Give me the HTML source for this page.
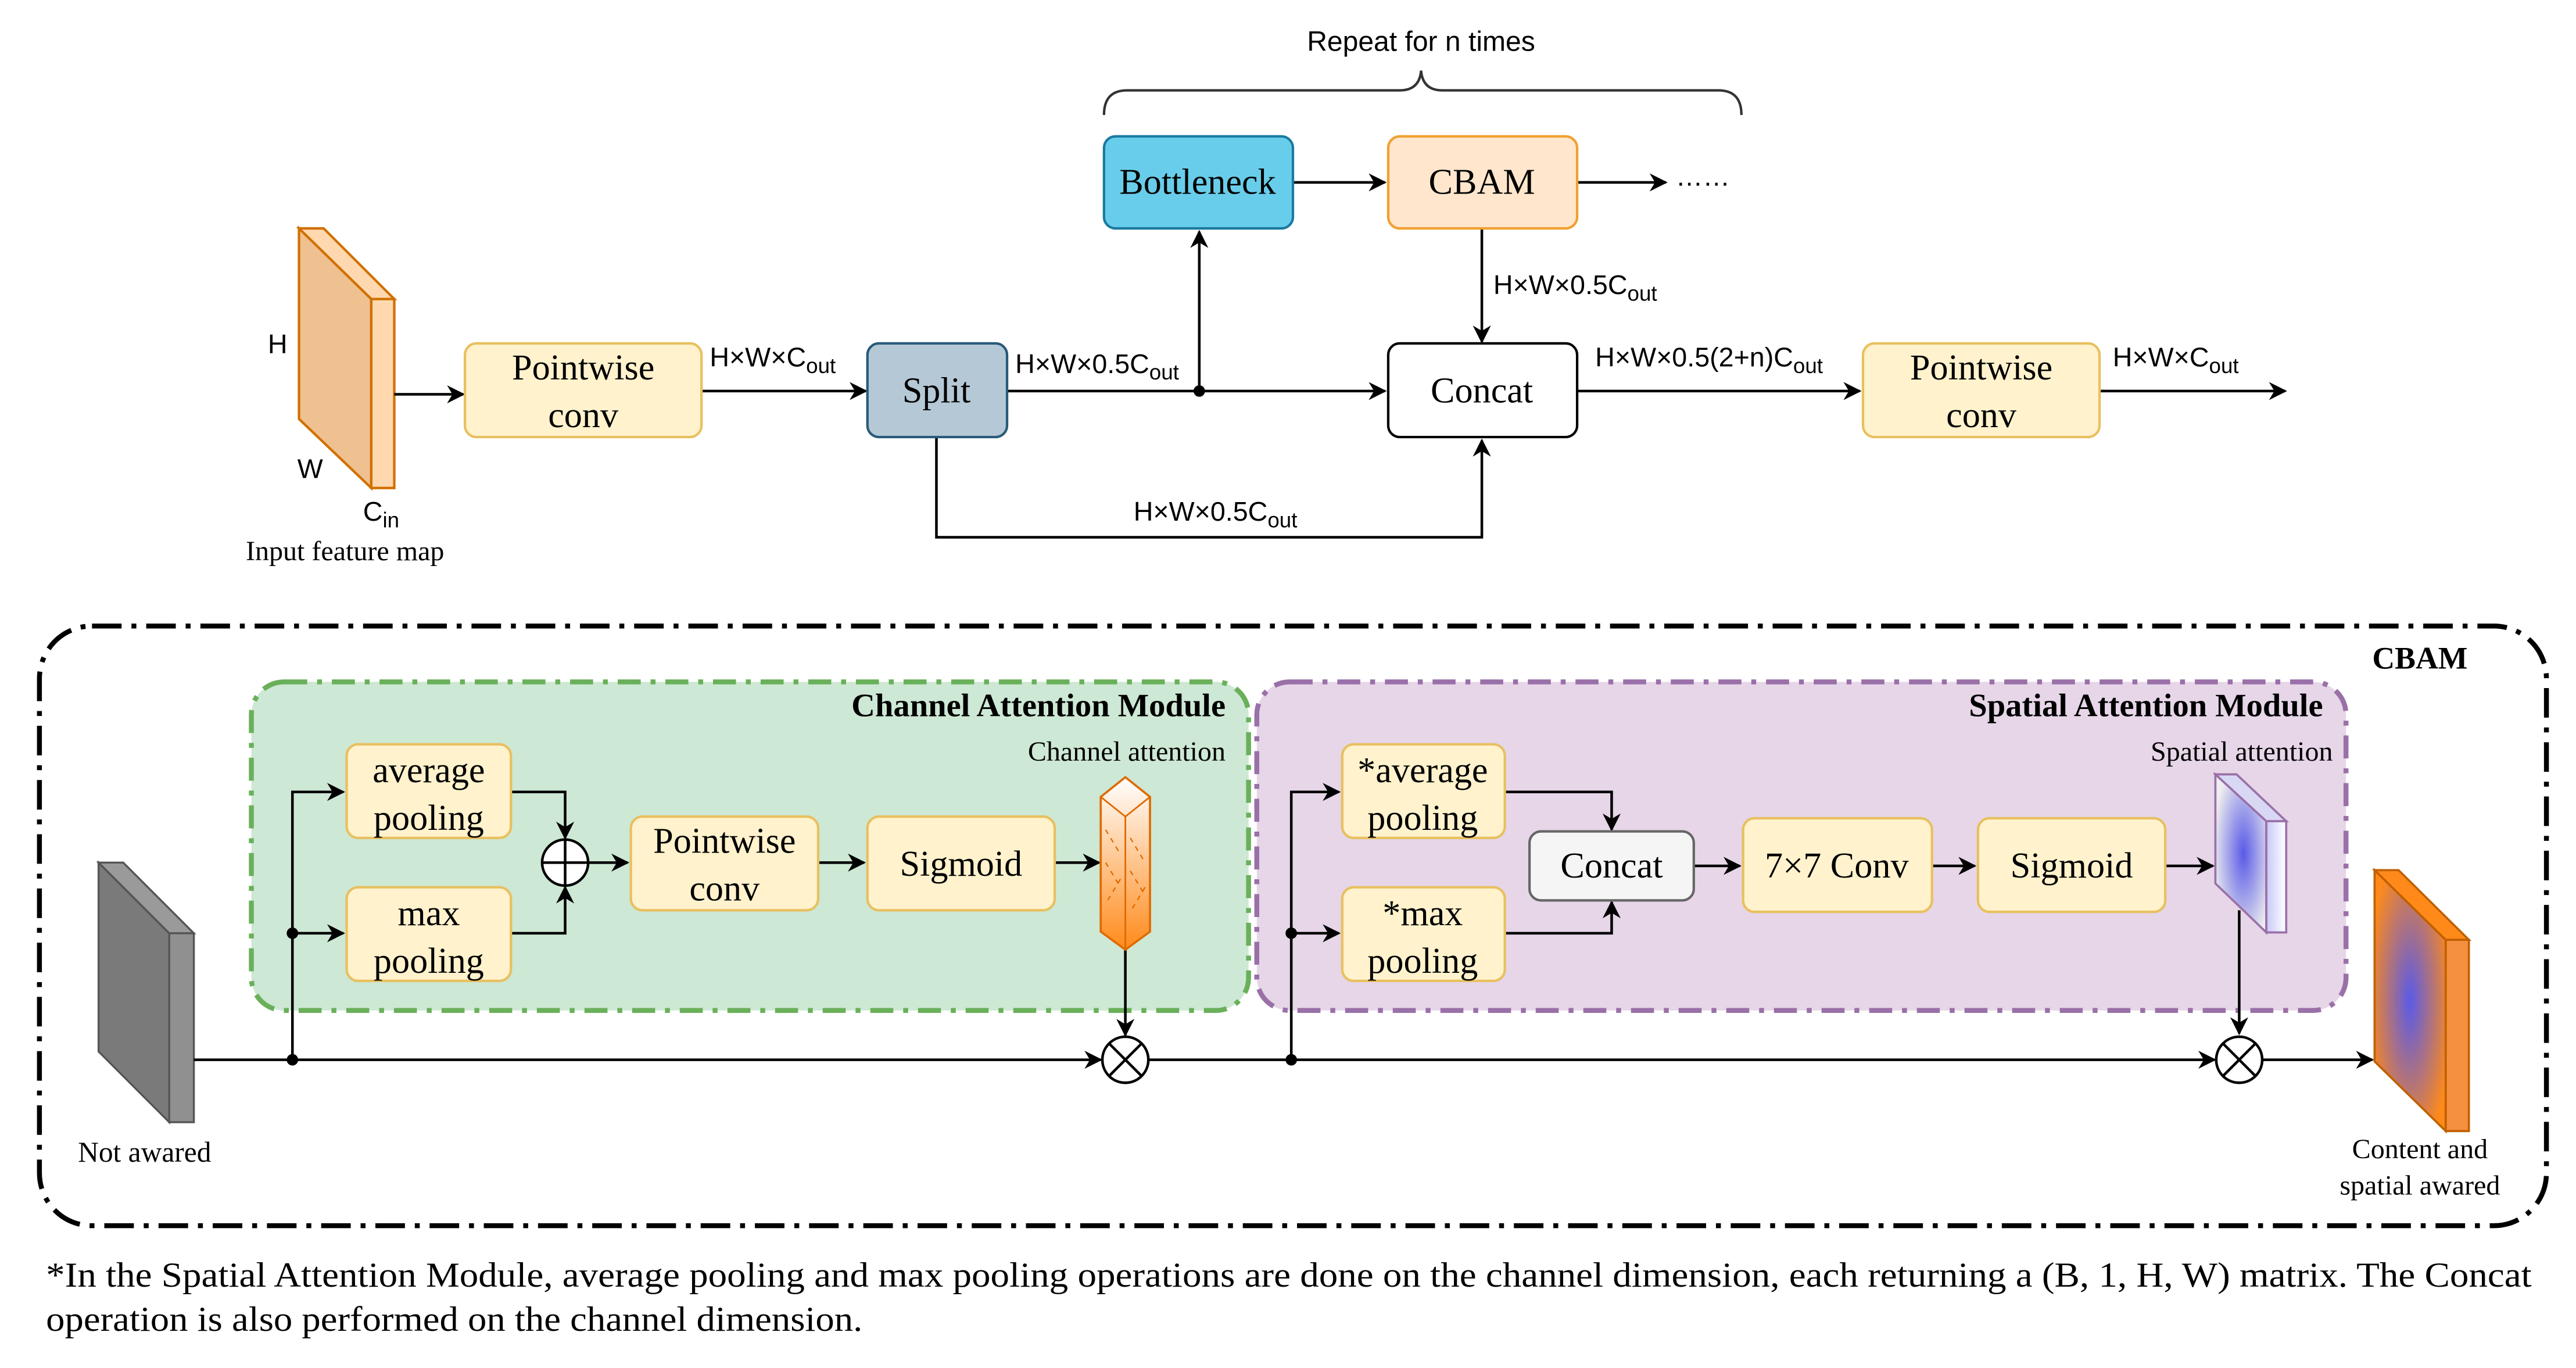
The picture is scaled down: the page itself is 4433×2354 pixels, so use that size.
<!DOCTYPE html>
<html><head><meta charset="utf-8"><style>html,body{margin:0;padding:0;background:#fff}svg{display:block}</style></head>
<body>
<svg width="4433" height="2354" viewBox="0 0 1568 832.6" preserveAspectRatio="none" xmlns="http://www.w3.org/2000/svg">
<defs>
<marker id="a" viewBox="0 0 10 10" refX="9" refY="5" markerWidth="11" markerHeight="11" markerUnits="userSpaceOnUse" orient="auto"><path d="M0,0 L10,5 L0,10 L3,5 z" fill="#000"/></marker>
<linearGradient id="og" x1="0" y1="0" x2="0" y2="1"><stop offset="0" stop-color="#fff"/><stop offset="1" stop-color="#ff8a1a"/></linearGradient>
<radialGradient id="bg1" cx="0.55" cy="0.5" r="0.6"><stop offset="0" stop-color="#5a5ae8"/><stop offset="1" stop-color="#eeeeee"/></radialGradient>
<radialGradient id="bg2" cx="0.5" cy="0.5" r="0.6"><stop offset="0" stop-color="#5a5ae8"/><stop offset="1" stop-color="#ff8a1a"/></radialGradient>
<linearGradient id="sg" x1="0" y1="0" x2="1" y2="0"><stop offset="0" stop-color="#c8c8f8"/><stop offset="1" stop-color="#fff"/></linearGradient>
</defs>
<g font-family="'Liberation Sans',sans-serif" font-size="16.5" fill="#000">
<text x="865" y="31" text-anchor="middle" font-size="17">Repeat for n times</text>
<path d="M672,70 Q672,55 686,55 L852,55 Q864,55 865,43 Q866,55 878,55 L1046,55 Q1060,55 1060,70" fill="none" stroke="#333" stroke-width="1.5"/>
<polygon points="182,139 226,182 226,297 182,255" fill="#efc090" stroke="#d07000" stroke-width="1.5"/>
<polygon points="182,139 197,139 240,182 226,182" fill="#ffd8b0" stroke="#d07000" stroke-width="1.5"/>
<rect x="226" y="182" width="14" height="115" fill="#ffd8b0" stroke="#d07000" stroke-width="1.5"/>
<text x="163" y="215">H</text><text x="181" y="291">W</text>
<text x="221" y="317">C<tspan font-size="13" dy="4">in</tspan></text>
<text x="210" y="341" text-anchor="middle" font-family="'Liberation Serif',serif" font-size="17">Input feature map</text>
</g>
<g stroke="#000" stroke-width="1.6" fill="none">
<line x1="240" y1="240" x2="282" y2="240" marker-end="url(#a)"/>
<line x1="427" y1="238" x2="527" y2="238" marker-end="url(#a)"/>
<line x1="613" y1="238" x2="843" y2="238" marker-end="url(#a)"/>
<line x1="730" y1="238" x2="730" y2="141" marker-end="url(#a)"/>
<line x1="787" y1="111" x2="843" y2="111" marker-end="url(#a)"/>
<line x1="960" y1="111" x2="1014" y2="111" marker-end="url(#a)"/>
<line x1="902" y1="139" x2="902" y2="208" marker-end="url(#a)"/>
<polyline points="570,266 570,327 902,327 902,268" marker-end="url(#a)"/>
<line x1="960" y1="238" x2="1132" y2="238" marker-end="url(#a)"/>
<line x1="1278" y1="238" x2="1391" y2="238" marker-end="url(#a)"/>
</g>
<circle cx="730" cy="238" r="3.5"/>
<g font-family="'Liberation Serif',serif" font-size="22" text-anchor="middle">
<rect x="283" y="209" width="144" height="57" rx="7" fill="#fff2cc" stroke="#e8c060" stroke-width="1.5"/>
<text x="355" y="231">Pointwise</text><text x="355" y="260">conv</text>
<rect x="528" y="209" width="85" height="57" rx="7" fill="#b5c8d5" stroke="#2a5a7a" stroke-width="1.5"/>
<text x="570" y="245">Split</text>
<rect x="672" y="83" width="115" height="56" rx="7" fill="#68cdea" stroke="#1a7aa0" stroke-width="1.5"/>
<text x="729" y="118">Bottleneck</text>
<rect x="845" y="83" width="115" height="56" rx="7" fill="#ffe6cc" stroke="#f0a030" stroke-width="1.5"/>
<text x="902" y="118">CBAM</text>
<rect x="845" y="209" width="115" height="57" rx="7" fill="#fff" stroke="#000" stroke-width="1.5"/>
<text x="902" y="245">Concat</text>
<rect x="1134" y="209" width="144" height="57" rx="7" fill="#fff2cc" stroke="#e8c060" stroke-width="1.5"/>
<text x="1206" y="231">Pointwise</text><text x="1206" y="260">conv</text>
</g>
<g font-family="'Liberation Sans',sans-serif" font-size="16.5">
<text x="1020" y="113">……</text>
<text x="432" y="223">H×W×C<tspan font-size="13" dy="4">out</tspan></text>
<text x="618" y="227">H×W×0.5C<tspan font-size="13" dy="4">out</tspan></text>
<text x="909" y="179">H×W×0.5C<tspan font-size="13" dy="4">out</tspan></text>
<text x="690" y="317">H×W×0.5C<tspan font-size="13" dy="4">out</tspan></text>
<text x="971" y="223">H×W×0.5(2+n)C<tspan font-size="13" dy="4">out</tspan></text>
<text x="1286" y="223">H×W×C<tspan font-size="13" dy="4">out</tspan></text>
</g>
<rect x="24" y="381" width="1526" height="365" rx="32" fill="none" stroke="#000" stroke-width="3" stroke-dasharray="18,6,3,6"/>
<text x="1473" y="407" text-anchor="middle" font-family="'Liberation Serif',serif" font-weight="bold" font-size="19">CBAM</text>
<rect x="153" y="415" width="607" height="200" rx="20" fill="#cde8d4" stroke="#6ab05a" stroke-width="3" stroke-dasharray="14,6,3,6"/>
<rect x="765" y="415" width="663" height="200" rx="20" fill="#e6d6e8" stroke="#9a70a8" stroke-width="3" stroke-dasharray="14,6,3,6"/>
<g font-family="'Liberation Serif',serif">
<text x="746" y="436" text-anchor="end" font-weight="bold" font-size="20">Channel Attention Module</text>
<text x="746" y="463" text-anchor="end" font-size="17">Channel attention</text>
<text x="1414" y="436" text-anchor="end" font-weight="bold" font-size="20">Spatial Attention Module</text>
<text x="1420" y="463" text-anchor="end" font-size="17">Spatial attention</text>
<text x="88" y="707" text-anchor="middle" font-size="17.5">Not awared</text>
<text x="1473" y="705" text-anchor="middle" font-size="17">Content and</text>
<text x="1473" y="727" text-anchor="middle" font-size="17">spatial awared</text>
</g>
<polygon points="60,525 103,568 103,683 60,640" fill="#7a7a7a" stroke="#555" stroke-width="1.2"/>
<polygon points="60,525 75,525 118,568 103,568" fill="#9a9a9a" stroke="#555" stroke-width="1.2"/>
<rect x="103" y="568" width="15" height="115" fill="#909090" stroke="#555" stroke-width="1.2"/>
<g stroke="#000" stroke-width="1.6" fill="none">
<line x1="118" y1="645" x2="670" y2="645" marker-end="url(#a)"/>
<polyline points="178,645 178,482 209,482" marker-end="url(#a)"/>
<line x1="178" y1="568" x2="209" y2="568" marker-end="url(#a)"/>
<polyline points="311,482 344,482 344,510" marker-end="url(#a)"/>
<polyline points="311,568 344,568 344,540" marker-end="url(#a)"/>
<line x1="358" y1="525" x2="382" y2="525" marker-end="url(#a)"/>
<line x1="498" y1="525" x2="526" y2="525" marker-end="url(#a)"/>
<line x1="642" y1="525" x2="669" y2="525" marker-end="url(#a)"/>
<line x1="685" y1="578" x2="685" y2="630" marker-end="url(#a)"/>
<line x1="699" y1="645" x2="1348" y2="645" marker-end="url(#a)"/>
<polyline points="786,645 786,482 815,482" marker-end="url(#a)"/>
<line x1="786" y1="568" x2="815" y2="568" marker-end="url(#a)"/>
<polyline points="916,482 981,482 981,505" marker-end="url(#a)"/>
<polyline points="916,568 981,568 981,549" marker-end="url(#a)"/>
<line x1="1031" y1="527" x2="1059" y2="527" marker-end="url(#a)"/>
<line x1="1176" y1="527" x2="1202" y2="527" marker-end="url(#a)"/>
<line x1="1318" y1="527" x2="1347" y2="527" marker-end="url(#a)"/>
<line x1="1363" y1="554" x2="1363" y2="629" marker-end="url(#a)"/>
<line x1="1377" y1="645" x2="1444" y2="645" marker-end="url(#a)"/>
</g>
<g fill="#000"><circle cx="178" cy="645" r="3.5"/><circle cx="178" cy="568" r="3.5"/><circle cx="786" cy="645" r="3.5"/><circle cx="786" cy="568" r="3.5"/></g>
<circle cx="344" cy="525" r="14" fill="#fff" stroke="#000" stroke-width="1.6"/>
<path d="M330,525 H358 M344,511 V539" stroke="#000" stroke-width="1.6"/>
<circle cx="685" cy="645" r="14" fill="#fff" stroke="#000" stroke-width="1.6"/>
<path d="M675,635 L695,655 M695,635 L675,655" stroke="#000" stroke-width="1.6"/>
<circle cx="1363" cy="645" r="14" fill="#fff" stroke="#000" stroke-width="1.6"/>
<path d="M1353,635 L1373,655 M1373,635 L1353,655" stroke="#000" stroke-width="1.6"/>
<g font-family="'Liberation Serif',serif" font-size="22" text-anchor="middle">
<rect x="211" y="453" width="100" height="57" rx="7" fill="#fff2cc" stroke="#e8c060" stroke-width="1.5"/>
<text x="261" y="476">average</text><text x="261" y="505">pooling</text>
<rect x="211" y="540" width="100" height="57" rx="7" fill="#fff2cc" stroke="#e8c060" stroke-width="1.5"/>
<text x="261" y="563">max</text><text x="261" y="592">pooling</text>
<rect x="384" y="497" width="114" height="57" rx="7" fill="#fff2cc" stroke="#e8c060" stroke-width="1.5"/>
<text x="441" y="519">Pointwise</text><text x="441" y="548">conv</text>
<rect x="528" y="497" width="114" height="57" rx="7" fill="#fff2cc" stroke="#e8c060" stroke-width="1.5"/>
<text x="585" y="533">Sigmoid</text>
<rect x="817" y="453" width="99" height="57" rx="7" fill="#fff2cc" stroke="#e8c060" stroke-width="1.5"/>
<text x="866" y="476">*average</text><text x="866" y="505">pooling</text>
<rect x="817" y="540" width="99" height="57" rx="7" fill="#fff2cc" stroke="#e8c060" stroke-width="1.5"/>
<text x="866" y="563">*max</text><text x="866" y="592">pooling</text>
<rect x="931" y="506" width="100" height="42" rx="7" fill="#f5f5f5" stroke="#666" stroke-width="1.5"/>
<text x="981" y="534">Concat</text>
<rect x="1061" y="498" width="115" height="57" rx="7" fill="#fff2cc" stroke="#e8c060" stroke-width="1.5"/>
<text x="1118" y="534">7×7 Conv</text>
<rect x="1204" y="498" width="114" height="57" rx="7" fill="#fff2cc" stroke="#e8c060" stroke-width="1.5"/>
<text x="1261" y="534">Sigmoid</text>
</g>
<polygon points="685,473 700,485 700,567 685,578 670,567 670,485" fill="url(#og)" stroke="#e06a00" stroke-width="1.3"/>
<path d="M670,485 L685,497 L700,485 M685,497 V578" fill="none" stroke="#e06a00" stroke-width="1"/>
<path d="M673,505 L682,520 M682,535 L673,550 M688,510 L697,525 M697,540 L688,555 M673,525 L682,540 M688,530 L697,545" stroke="#e06a00" stroke-width="0.8" stroke-dasharray="3,3"/>
<polygon points="1348.5,471.3 1379.5,499.8 1379.5,567.5 1348.5,537.7" fill="url(#bg1)" stroke="#9a70a8" stroke-width="1.3"/>
<polygon points="1348.5,471.3 1361.4,471.3 1391.6,499.8 1379.5,499.8" fill="#d8d8f4" stroke="#9a70a8" stroke-width="1.3"/>
<rect x="1379.5" y="499.8" width="12.1" height="67.7" fill="url(#sg)" stroke="#9a70a8" stroke-width="1.3"/>
<polygon points="1445.4,529.6 1488.7,572 1488.7,688.4 1445.4,646" fill="url(#bg2)" stroke="#c06000" stroke-width="1.3"/>
<polygon points="1445.4,529.6 1460,529.6 1502.8,572 1488.7,572" fill="#ff8a1a" stroke="#c06000" stroke-width="1.3"/>
<rect x="1488.7" y="572" width="14.1" height="116.4" fill="#f59040" stroke="#c06000" stroke-width="1.3"/>
<g font-family="'Liberation Serif',serif" font-size="21.5">
<text x="28" y="783" textLength="1513" lengthAdjust="spacingAndGlyphs">*In the Spatial Attention Module, average pooling and max pooling operations are done on the channel dimension, each returning a (B, 1, H, W) matrix. The Concat</text>
<text x="28" y="810" textLength="497" lengthAdjust="spacingAndGlyphs">operation is also performed on the channel dimension.</text>
</g>
</svg>
</body></html>
